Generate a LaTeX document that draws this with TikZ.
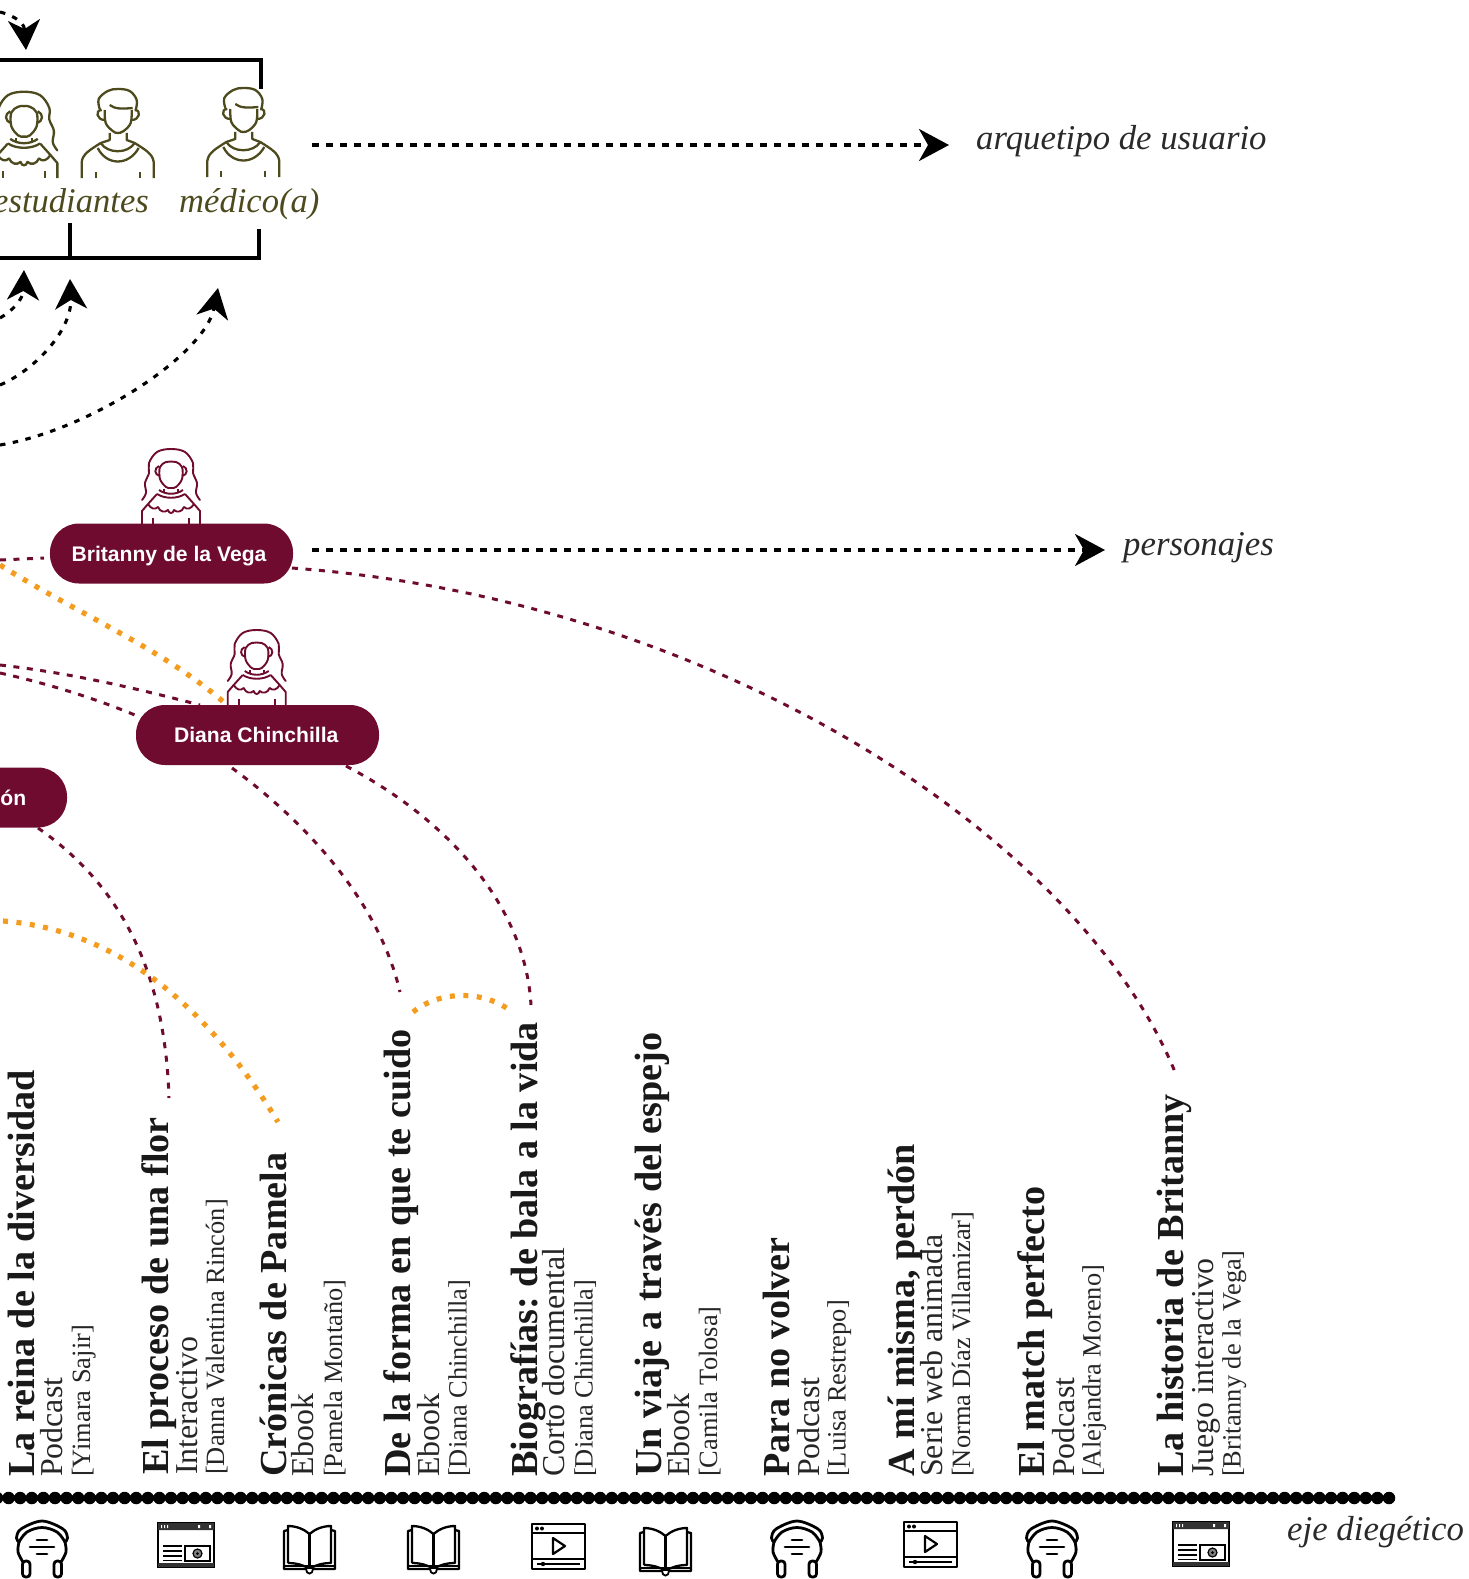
\documentclass[tikz,border=0pt]{standalone}
\usepackage{fontspec}
\setmainfont{Liberation Serif}
\newfontfamily\pillfont{Liberation Sans}
\usetikzlibrary{arrows.meta}
\frenchspacing
\definecolor{maroon}{HTML}{6E0B2E}
\definecolor{olivedark}{HTML}{4D4A1E}
\definecolor{orangeline}{HTML}{F39C1F}
\definecolor{inkdark}{HTML}{2A2A2A}
\tikzset{
  tit/.style={rotate=90,anchor=base west,inner sep=0pt,font=\bfseries\fontsize{38.3}{40}\selectfont,text=black!90},
  typ/.style={rotate=90,anchor=base west,inner sep=0pt,font=\fontsize{32}{34}\selectfont,text=black!85},
  aut/.style={rotate=90,anchor=base west,inner sep=0pt,font=\fontsize{26.5}{28}\selectfont,text=black!85},
  pill/.style={fill=maroon,rounded corners=29bp,minimum width=243bp,minimum height=60bp,inner sep=0pt,text=white,text height=15bp,text depth=0bp,font=\pillfont\bfseries\fontsize{21.2}{24}\selectfont},
  role/.style={inner sep=0pt,anchor=base,text=olivedark,font=\itshape\fontsize{34.7}{38}\selectfont},
  note/.style={inner sep=0pt,anchor=base west,text=inkdark,font=\itshape\fontsize{34.9}{38}\selectfont},
  tipbig/.style={-{Stealth[length=30bp,width=32bp,inset=9bp]}},
  guide/.style={black,line width=3.2bp,dash pattern=on 7bp off 7bp,tipbig},
  bowguide/.style={black,line width=3.1bp,dash pattern=on 5.5bp off 7.5bp,tipbig},
  mline/.style={maroon,line width=3bp,dash pattern=on 6bp off 7.5bp},
  oline/.style={orangeline,line width=5.2bp,dash pattern=on 5bp off 8.5bp},
  bracket/.style={black,line width=3.2bp},
  pics/woman/.style={code={
    \draw[line cap=round,line join=round] plot[smooth,tension=.6] coordinates {(-29,-24)(-25,-31)(-26,-41)(-22,-51)(-22,-61)(-14,-72)(0,-75)(14,-72)(22,-61)(22,-51)(26,-41)(25,-31)(29,-24)};
    \draw[line join=round] plot[smooth cycle,tension=.6] coordinates {(-11,-57)(-11,-45)(-5,-37)(0,-36)(5,-37)(11,-45)(11,-57)(5,-62)(0,-62.5)(-5,-62)};
    \draw (-12,-58) .. controls (-17,-56) and (-17,-49) .. (-11,-48);
    \draw (12,-58) .. controls (17,-56) and (17,-49) .. (11,-48);
    \draw (-7,-35) -- (-7,-32) (7,-35) -- (7,-32);
    \draw (-14,-30) .. controls (-6,-25) and (6,-25) .. (14,-30);
    \draw (-12,-34) .. controls (-5,-29) and (5,-29) .. (12,-34);
    \draw[line join=round] (-14,-30) -- (-23,-20) .. controls (-20,-15) and (-16,-14) .. (-13,-17) .. controls (-11,-12) and (-6,-11) .. (-3,-14) .. controls (-2,-10) and (2,-10) .. (3,-14) .. controls (6,-11) and (11,-12) .. (13,-17) .. controls (16,-14) and (20,-15) .. (23,-20) -- (14,-30);
    \draw[line join=round] (-23,-20) -- (-29,-13) -- (-29,0) (23,-20) -- (29,-13) -- (29,0);
    \draw (-18,-6) -- (-18,0) (18,-6) -- (18,0);
  }},
  pics/man/.style={code={
    \draw[line cap=round,line join=round] plot[smooth,tension=.6] coordinates {(-18,-69)(-19,-79)(-10,-87)(0,-89)(12,-87)(19,-78)(18,-68)};
    \draw[line join=round] plot[smooth,tension=.6] coordinates {(-13,-68)(-12,-55)(-5,-47)(0,-45)(6,-47)(13,-55)(14,-68)};
    \draw (-8,-73) .. controls (-3,-69) and (4,-69) .. (15,-70);
    \draw (-16,-68) .. controls (-23,-68) and (-21,-58) .. (-13,-58);
    \draw (17,-68) .. controls (24,-68) and (22,-58) .. (14,-58);
    \draw[line join=round] (-8,-45) -- (-8,-38) -- (-17,-35) (9,-45) -- (9,-38) -- (17,-35);
    \draw[line join=round] (-36,0) -- (-36,-16) .. controls (-35,-24) and (-28,-28) .. (-17,-35) .. controls (-10,-24) and (10,-24) .. (17,-35) .. controls (28,-28) and (35,-24) .. (36,-16) -- (36,0);
    \draw (-20,-30) .. controls (-11,-12) and (11,-12) .. (21,-30);
    \draw (-22,-6) -- (-22,0) (22,-6) -- (22,0);
  }},
  pics/phones/.style={code={
    \draw[line width=2.8bp,line join=round,line cap=round] plot[smooth,tension=.55] coordinates {(-23,21)(-25.5,17)(-21,8)(0,0)(21,8)(25.5,17)(23,21)};
    \draw[line width=2.8bp,line cap=round] plot[smooth,tension=.6] coordinates {(-23,21)(-15,11)(0,6.5)(15,11)(23,21)};
    \draw[line width=2.8bp] plot[smooth,tension=.6] coordinates {(-23,21)(-24,31)(-19,41)};
    \draw[line width=2.8bp] plot[smooth,tension=.6] coordinates {(23,21)(24,31)(19,41)};
    \draw[line width=2.8bp,rounded corners=3.2bp] (-19.5,40) rectangle (-12,56);
    \draw[line width=2.8bp,rounded corners=3.2bp] (12,40) rectangle (19.5,56);
    \draw[line width=2.8bp,line cap=round] (-5,19) -- (5,19) (-12,26) -- (12,26) (-5,33) -- (5,33);
  }},
  pics/inter/.style={code={
    \draw[line width=1.8bp,fill=white] (0,0) rectangle (56,44);
    \fill[black!80] (0,0) rectangle (56,7) (0,40) rectangle (56,44);
    \fill[white] (3,2) rectangle (4,5) (6,2) rectangle (7,5) (9,2) rectangle (10,5) (40,2) rectangle (42,5) (51,2) rectangle (53,5);
    \draw[line width=1.4bp] (5,23) -- (24,23) (5,28) -- (24,28) (5,33) -- (24,33) (5,37.5) -- (24,37.5);
    \draw[line width=1.6bp] (27,23) rectangle (52,38);
    \draw[line width=1.2bp,fill=black!50] (39.5,30.5) circle (4.5bp);
    \fill (39.5,30.5) circle (1.5bp);
  }},
  pics/book/.style={code={
    \draw[line width=2.3bp,line join=round] (4,5) -- (0,6) -- (0,44) -- (51,44) -- (51,6) -- (47,5);
    \draw[line width=2.3bp,line join=round] (4,38) -- (4,1) .. controls (12,1) and (20,4) .. (25.5,9) .. controls (31,4) and (39,1) .. (47,1) -- (47,38) .. controls (39,38) and (31,40) .. (25.5,44) .. controls (20,40) and (12,38) .. (4,38);
    \draw[line width=2.3bp] (25.5,9) -- (25.5,44);
    \draw[line width=2.8bp] (0,41) -- (51,41);
    \draw[line width=1.8bp,fill=white] (22,44) .. controls (22,50) and (29,50) .. (29,44);
  }},
  pics/video/.style={code={
    \draw[line width=2.2bp,line join=round] (0,0) rectangle (53,45);
    \draw[line width=2.2bp] (0,9) -- (53,9) (0,35) -- (53,35);
    \fill (5,4.5) circle (2bp) (10,4.5) circle (2bp);
    \draw[line width=2.2bp,line join=round] (21,14) -- (33,22) -- (21,30) -- cycle;
    \draw[line width=1.6bp] (5,40) -- (48,40);
    \fill (11,40) circle (2.2bp);
  }},
}
\begin{document}
\begin{tikzpicture}[x=1bp,y=-1bp]
\useasboundingbox (0,0) rectangle (1469,1579);
\clip (0,0) rectangle (1469,1579);

% brackets
\draw[bracket,line join=miter] (-5,60) -- (261,60) -- (261,89);
\draw[bracket,line join=miter] (-5,258) -- (259,258) -- (259,229);
\draw[bracket] (70,223) -- (70,258);

% persons
\pic[color=olivedark,line width=2.3bp,scale=1.15] at (24,178) {woman};
\pic[color=olivedark,line width=2.3bp] at (117.7,178) {man};
\pic[color=olivedark,line width=2.3bp] at (243.3,177) {man};
\pic[color=maroon,line width=1.9bp] at (171,524) {woman};
\pic[color=maroon,line width=1.9bp] at (256.7,705) {woman};

% labels upper
\node[role,anchor=base east] (estud) at (149,212) {estudiantes};
\node[role,anchor=base west] (medico) at (179,212) {médico(a)};
\node[note] (arq) at (976,150) {arquetipo de usuario};
\node[note] (pers) at (1123,555) {personajes};
\node[note] (eje) at (1287,1540) {eje diegético};

% pills
\node[pill] (brit) at (171.5,553.5) {Britanny de la Vega\kern5bp};
\node[pill] (diana) at (257.5,735) {Diana Chinchilla\kern2.5bp};
\node[pill,fill=maroon] (third) at (-54.5,797.5) {};
\node[inner sep=0pt,anchor=base east,text=white,font=\pillfont\bfseries\fontsize{21.2}{24}\selectfont] (thirdtxt) at (26.5,805.5) {ón};

% free ends
\coordinate (a1s) at (0,12);     \coordinate (a1e) at (26,50);
\coordinate (a2s) at (0,318);    \coordinate (a2e) at (24,270);
\coordinate (a3s) at (0,385);    \coordinate (a3e) at (70,279);
\coordinate (a4s) at (0,445);    \coordinate (a4e) at (218,288);
\coordinate (g1s) at (312,145);  \coordinate (g1e) at (949,145);
\coordinate (g2s) at (312,550);  \coordinate (g2e) at (1105,550);

% black guides
\draw[bowguide] (a1s) .. controls (8,14) and (24,20) .. (a1e);
\draw[bowguide] (a2s) .. controls (12,311) and (23,300) .. (a2e);
\draw[bowguide] (a3s) .. controls (35,370) and (72,330) .. (a3e);
\draw[bowguide] (a4s) .. controls (90,430) and (205,355) .. (a4e);
\draw[guide] (g1s) -- (g1e);
\draw[guide] (g2s) -- (g2e);

% maroon links
\coordinate (m1s) at (0,560);   \coordinate (m1e) at (44,558);
\coordinate (m2s) at (292,568); \coordinate (m2e) at (1175,1072);
\coordinate (m3s) at (0,665);   \coordinate (m3e) at (200,705);
\coordinate (m4s) at (0,673);   \coordinate (m4e) at (142,718);
\coordinate (m5s) at (232,768); \coordinate (m5e) at (400,992);
\coordinate (m6s) at (346,766); \coordinate (m6e) at (531,1005);
\coordinate (m7s) at (38,828);  \coordinate (m7e) at (169,1098);
\draw[mline] (m1s) -- (m1e);
\draw[mline] (m2s) .. controls (720,600) and (1080,840) .. (m2e);
\draw[mline] (m3s) .. controls (70,673) and (135,688) .. (m3e);
\draw[mline] (m4s) .. controls (50,684) and (100,700) .. (m4e);
\draw[mline] (m5s) .. controls (310,825) and (380,905) .. (m5e);
\draw[mline] (m6s) .. controls (440,815) and (525,900) .. (m6e);
\draw[mline] (m7s) .. controls (120,885) and (165,970) .. (m7e);

% orange links
\coordinate (o1s) at (0,565);   \coordinate (o1e) at (227,705);
\coordinate (o2s) at (3,921);   \coordinate (o2e) at (278,1122);
\coordinate (o3s) at (413,1012);\coordinate (o3e) at (512,1012);
\draw[oline] (o1s) .. controls (80,615) and (165,650) .. (o1e);
\draw[oline] (o2s) .. controls (120,930) and (210,1010) .. (o2e);
\draw[oline] (o3s) .. controls (440,990) and (485,990) .. (o3e);

% axis
\coordinate (axs) at (-3,1498); \coordinate (axe) at (1390,1498);
\draw[black,line width=12.5bp,line cap=round,dash pattern=on 0bp off 11.6bp] (axs) -- (axe);

% entries
\node[tit] (t1) at (34,1477) {La reina de la diversidad};
\node[typ] (y1) at (62,1477) {Podcast};
\node[aut] (u1) at (90,1477) {[Yimara Sajir]};
\node[tit] (t2) at (168,1475) {El proceso de una flor};
\node[typ] (y2) at (197,1475) {Interactivo};
\node[aut] (u2) at (224,1475) {[Danna Valentina Rincón]};
\node[tit] (t3) at (286,1477) {Crónicas de Pamela};
\node[typ] (y3) at (313,1477) {Ebook};
\node[aut] (u3) at (342,1477) {[Pamela Montaño]};
\node[tit] (t4) at (410.5,1477) {De la forma en que te cuido};
\node[typ] (y4) at (439,1477) {Ebook};
\node[aut] (u4) at (466.5,1477) {[Diana Chinchilla]};
\node[tit] (t5) at (537,1477) {Biografías: de bala a la vida};
\node[typ] (y5) at (564,1477) {Corto documental};
\node[aut] (u5) at (592.5,1477) {[Diana Chinchilla]};
\node[tit] (t6) at (661,1477) {Un viaje a través del espejo};
\node[typ] (y6) at (689,1477) {Ebook};
\node[aut] (u6) at (717,1477) {[Camila Tolosa]};
\node[tit] (t7) at (789,1477) {Para no volver};
\node[typ] (y7) at (819,1477) {Podcast};
\node[aut] (u7) at (845.5,1477) {[Luisa Restrepo]};
\node[tit] (t8) at (914,1477) {A mí misma, perdón};
\node[typ] (y8) at (942,1477) {Serie web animada};
\node[aut] (u8) at (970,1477) {[Norma Díaz Villamizar]};
\node[tit] (t9) at (1044.5,1477) {El match perfecto};
\node[typ] (y9) at (1074,1477) {Podcast};
\node[aut] (u9) at (1100.5,1477) {[Alejandra Moreno]};
\node[tit] (t10) at (1183,1477) {La historia de Britanny};
\node[typ] (y10) at (1213,1477) {Juego interactivo};
\node[aut] (u10) at (1240.5,1477) {[Britanny de la Vega]};

% media icons
\pic at (42,1521) {phones};
\pic at (158,1523) {inter};
\pic at (284,1525) {book};
\pic at (408,1525) {book};
\pic at (532,1524) {video};
\pic at (640,1527) {book};
\pic at (797,1521) {phones};
\pic at (904,1522) {video};
\pic at (1052,1521) {phones};
\pic at (1173,1522) {inter};
\end{tikzpicture}
\end{document}
